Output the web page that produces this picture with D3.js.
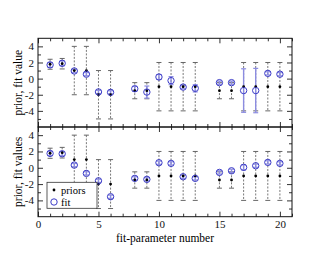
<!DOCTYPE html>
<html>
<head>
<meta charset="utf-8">
<script src="https://cdn.jsdelivr.net/npm/d3@7"></script>
<style>
  body { margin: 0; background: #fff; }
  svg text { font-family: "Liberation Serif", "DejaVu Serif", serif; }
</style>
</head>
<body>
<div id="chart"></div>
<script>
// fit-parameter numbers (7 and 14 are absent)
const params = [1, 2, 3, 4, 5, 6, 8, 9, 10, 11, 12, 13, 15, 16, 17, 18, 19, 20];
const priorMean = [1.78, 1.85, 1, 1, -2, -2, -1.5, -1.5, -1, -1, -1, -1, -1.5, -1.5, -1, -1, -1, -1];
const priorErr = [0.62, 0.65, 3, 3, 3, 3, 1, 1, 3, 3, 3, 3, 1, 1, 3, 3, 3, 3];

// top panel fit
const fitTop = [1.7, 1.9, 0.95, 0.55, -1.65, -1.7, -1.26, -1.67, 0.2, -0.25, -1.05, -1.2, -0.5, -0.5, -1.48, -1.48, 0.65, 0.55];
const fitTopErr = [0.3, 0.3, 0.2, 0.2, 0.2, 0.2, 0.3, 0.75, 0.3, 0.5, 0.2, 0.45, 0.2, 0.2, 2.7, 2.75, 0.2, 0.2];

// bottom panel fit
const fitBottom = [1.76, 1.72, 0.33, -0.69, -1.6, -3.55, -1.3, -1.42, 0.62, 0.54, -1.1, -1.3, -0.57, -0.37, 0.05, 0.25, 0.66, 0.54];
const fitBottomErr = [0.25, 0.25, 0.2, 0.2, 0.2, 0.2, 0.2, 0.2, 0.2, 0.2, 0.2, 0.2, 0.2, 0.2, 0.3, 0.2, 0.2, 0.2];

const xTicks = [0, 5, 10, 15, 20];
const yTicks = [-4, -2, 0, 2, 4];

const W = 330, H = 255;
const svg = d3.select("#chart").append("svg").attr("width", W).attr("height", H);

const x = d3.scaleLinear().domain([0, 21]).range([38, 292]);
const panels = [
  { y: d3.scaleLinear().domain([-6, 5]).range([127, 38.3]), fit: fitTop, err: fitTopErr, label: "prior, fit value", bottom: false },
  { y: d3.scaleLinear().domain([-6, 5]).range([216.7, 127]), fit: fitBottom, err: fitBottomErr, label: "prior, fit values", bottom: true }
];

const xMinor = d3.range(0, 22).filter(d => d % 5 !== 0);
const yMinor = [-5, -3, -1, 1, 3];
const fitColor = "#3c3cc8";
const fitBarColor = "#8c8ce0";

function addAxis(g, axis) {
  g.call(axis);
  g.select(".domain").remove();
  g.selectAll(".tick line").attr("stroke", "#333");
  g.selectAll("text").attr("font-size", 11).attr("fill", "#111");
}

panels.forEach(p => {
  const y = p.y;
  const top = y.range()[1], bot = y.range()[0];
  const g = svg.append("g");

  // ticks (inward) on all four sides
  addAxis(g.append("g").attr("transform", `translate(${x.range()[0]},0)`),
    d3.axisLeft(y).tickValues(yTicks).tickSize(-5).tickPadding(4).tickFormat(d => String(d)));
  addAxis(g.append("g").attr("transform", `translate(${x.range()[0]},0)`),
    d3.axisLeft(y).tickValues(yMinor).tickSize(-3).tickFormat(""));
  addAxis(g.append("g").attr("transform", `translate(${x.range()[1]},0)`),
    d3.axisRight(y).tickValues(yTicks).tickSize(-5).tickFormat(""));
  addAxis(g.append("g").attr("transform", `translate(${x.range()[1]},0)`),
    d3.axisRight(y).tickValues(yMinor).tickSize(-3).tickFormat(""));
  addAxis(g.append("g").attr("transform", `translate(0,${top})`),
    d3.axisTop(x).tickValues(xTicks).tickSize(-5).tickFormat(""));
  addAxis(g.append("g").attr("transform", `translate(0,${top})`),
    d3.axisTop(x).tickValues(xMinor).tickSize(-3).tickFormat(""));
  addAxis(g.append("g").attr("transform", `translate(0,${bot})`),
    d3.axisBottom(x).tickValues(xTicks).tickSize(-5).tickPadding(4)
      .tickFormat(p.bottom ? d => String(d) : ""));
  addAxis(g.append("g").attr("transform", `translate(0,${bot})`),
    d3.axisBottom(x).tickValues(xMinor).tickSize(-3).tickFormat(""));

  // frame
  g.append("rect")
    .attr("x", x.range()[0]).attr("y", top)
    .attr("width", x.range()[1] - x.range()[0]).attr("height", bot - top)
    .attr("fill", "none").attr("stroke", "#111").attr("stroke-width", 1);

  // y label
  g.append("text")
    .attr("transform", `translate(19,${(top + bot) / 2}) rotate(-90)`)
    .attr("text-anchor", "middle").attr("dominant-baseline", "middle")
    .attr("font-size", 11.5).text(p.label);

  // prior error bars (dashed)
  const pri = g.append("g");
  params.forEach((k, i) => {
    const cx = x(k), y1 = y(priorMean[i] + priorErr[i]), y2 = y(priorMean[i] - priorErr[i]);
    pri.append("line").attr("x1", cx).attr("x2", cx).attr("y1", y1).attr("y2", y2)
      .attr("stroke", "#555").attr("stroke-width", 0.8).attr("stroke-dasharray", "2,1.5");
    [y1, y2].forEach(yy => pri.append("line")
      .attr("x1", cx - 2.5).attr("x2", cx + 2.5).attr("y1", yy).attr("y2", yy)
      .attr("stroke", "#666").attr("stroke-width", 1));
  });

  // fit error bars
  const fb = g.append("g");
  params.forEach((k, i) => {
    const cx = x(k), y1 = y(p.fit[i] + p.err[i]), y2 = y(p.fit[i] - p.err[i]);
    fb.append("line").attr("x1", cx).attr("x2", cx).attr("y1", y1).attr("y2", y2)
      .attr("stroke", fitBarColor).attr("stroke-width", 1.4);
    [y1, y2].forEach(yy => fb.append("line")
      .attr("x1", cx - 2.5).attr("x2", cx + 2.5).attr("y1", yy).attr("y2", yy)
      .attr("stroke", fitBarColor).attr("stroke-width", 1.2));
  });

  // prior points
  g.append("g").selectAll("circle").data(params).join("circle")
    .attr("cx", d => x(d)).attr("cy", (d, i) => y(priorMean[i])).attr("r", 1.4)
    .attr("fill", "#000");

  // fit points
  g.append("g").selectAll("circle").data(params).join("circle")
    .attr("cx", d => x(d)).attr("cy", (d, i) => y(p.fit[i])).attr("r", 3.2)
    .attr("fill", "none").attr("stroke", fitColor).attr("stroke-width", 1);
});

// x label
svg.append("text").attr("x", 165).attr("y", 242).attr("text-anchor", "middle")
  .attr("font-size", 11.5).text("fit-parameter number");

// legend
const lg = svg.append("g");
lg.append("rect").attr("x", 47).attr("y", 182.3).attr("width", 50).attr("height", 26)
  .attr("fill", "#fff").attr("stroke", "#333").attr("stroke-width", 0.8);
lg.append("circle").attr("cx", 54).attr("cy", 190).attr("r", 1.4).attr("fill", "#000");
lg.append("circle").attr("cx", 54).attr("cy", 202).attr("r", 3.2)
  .attr("fill", "none").attr("stroke", fitColor).attr("stroke-width", 1);
lg.append("text").attr("x", 61).attr("y", 193.5).attr("font-size", 10.5).text("priors");
lg.append("text").attr("x", 61).attr("y", 205.5).attr("font-size", 10.5).text("fit");
</script>
</body>
</html>
